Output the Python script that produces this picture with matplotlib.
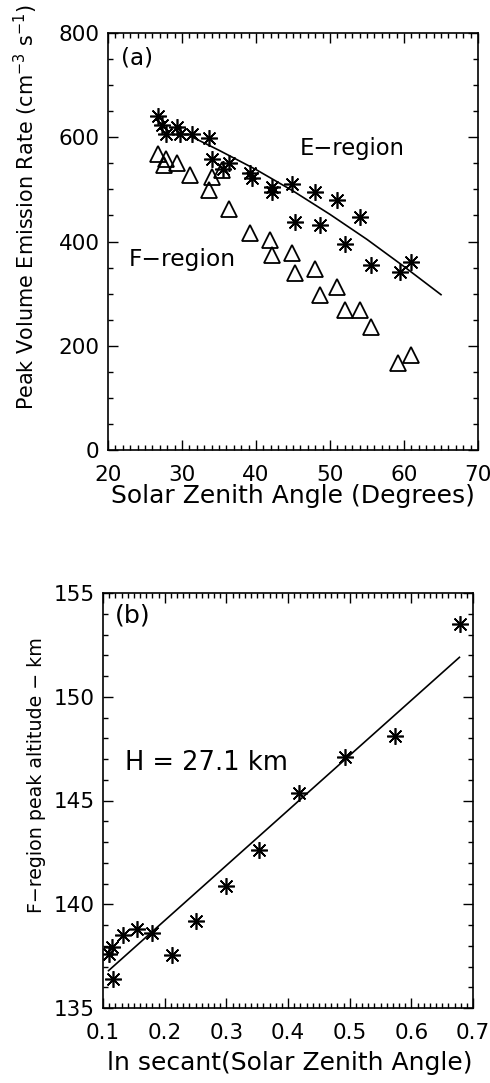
import matplotlib
matplotlib.use("Agg")
import matplotlib.pyplot as plt
from matplotlib.ticker import MultipleLocator

plt.rcParams['font.family'] = ['DejaVu Sans']
plt.rcParams['mathtext.fontset'] = 'dejavusans'

# Panel (a): peak volume emission rate vs solar zenith angle
sza_e = [26.8, 27.3, 27.9, 29.3, 29.7, 31.3, 33.6, 34.0, 35.6, 36.3, 39.2, 39.4,
         42.1, 42.1, 44.8, 45.3, 48.0, 48.6, 50.9, 52.0, 54.1, 55.6, 59.5, 61.0]
ver_e = [640, 623, 607, 620, 607, 607, 598, 559, 540, 550, 531, 521,
         505, 495, 511, 438, 495, 431, 479, 396, 447, 355, 342, 361]

sza_f = [26.8, 27.5, 27.9, 29.3, 31.1, 33.6, 34.0, 35.4, 36.3, 39.2, 41.9,
         42.1, 44.8, 45.3, 48.0, 48.6, 50.9, 52.0, 54.1, 55.6, 59.2, 61.0]
ver_f = [567, 546, 559, 550, 527, 499, 524, 537, 463, 417, 402,
         374, 377, 339, 348, 297, 313, 268, 268, 236, 166, 182]

fit_sza = [31.3, 35, 40, 45, 50, 55, 60, 65]
fit_ver = [601, 575, 538, 497, 452, 404, 352, 298]

# Panel (b): F-region peak altitude vs ln sec(SZA)
lnsec = [0.117, 0.109, 0.114, 0.133, 0.155, 0.179, 0.212, 0.250, 0.299,
         0.353, 0.418, 0.492, 0.573, 0.679]
hmf = [136.4, 137.6, 137.95, 138.5, 138.8, 138.6, 137.55, 139.2, 140.9,
       142.6, 145.35, 147.1, 148.1, 153.5]

line_x = [0.109, 0.678]
line_y = [136.8, 151.9]

W, H = 490, 1083
fig = plt.figure(figsize=(W / 100, H / 100), dpi=100)
fig.patch.set_facecolor('white')

ax1 = fig.add_axes([108 / W, 1 - 450 / H, 370 / W, 417 / H])
ax2 = fig.add_axes([103 / W, 1 - 1008 / H, 370 / W, 415 / H])

asterisk = (8, 2, 0)
FS = 15.5
renderer = fig.canvas.get_renderer()


def fit_length(t, target_px, vertical=False):
    """Scale a text's font size so its drawn length equals target_px."""
    bb = t.get_window_extent(renderer)
    cur = bb.height if vertical else bb.width
    t.set_fontsize(t.get_fontsize() * target_px / cur)


def style(ax, xmaj, xmin, ymaj, ymin, ypad):
    ax.xaxis.set_major_locator(MultipleLocator(xmaj))
    ax.xaxis.set_minor_locator(MultipleLocator(xmin))
    ax.yaxis.set_major_locator(MultipleLocator(ymaj))
    ax.yaxis.set_minor_locator(MultipleLocator(ymin))
    ax.tick_params(which='both', direction='in', top=True, right=True,
                   width=1.0, color='black')
    ax.tick_params(which='major', length=7)
    ax.tick_params(which='minor', length=3.5)
    ax.tick_params(axis='x', which='major', pad=11, labelsize=FS)
    ax.tick_params(axis='y', which='major', pad=ypad, labelsize=FS)
    for s in ax.spines.values():
        s.set_linewidth(1.2)


ax1.plot(sza_e, ver_e, linestyle='none', marker=asterisk, markersize=12,
         markeredgewidth=1.2, color='black')
ax1.plot(sza_f, ver_f, linestyle='none', marker='^', markersize=11,
         markerfacecolor='none', markeredgecolor='black', markeredgewidth=1.3)
ax1.plot(fit_sza, fit_ver, color='black', linewidth=1.2)
ax1.set_xlim(20, 70)
ax1.set_ylim(0, 800)
style(ax1, 10, 1, 200, 50, 6)
ta = ax1.text(23.9, 752, '(a)', fontsize=FS, ha='center', va='center')
te = ax1.text(53.0, 579, 'E\u2212region', fontsize=FS, ha='center', va='center')
tf = ax1.text(30.1, 366, 'F\u2212region', fontsize=FS, ha='center', va='center')

ax2.plot(lnsec, hmf, linestyle='none', marker=asterisk, markersize=12,
         markeredgewidth=1.2, color='black')
ax2.plot(line_x, line_y, color='black', linewidth=1.2)
ax2.set_xlim(0.1, 0.7)
ax2.set_ylim(135, 155)
style(ax2, 0.1, 0.01, 5, 1, 6)
ax2.xaxis.set_major_formatter(plt.FuncFormatter(lambda v, p: f'{v:.1f}'))
tb = ax2.text(0.149, 153.9, '(b)', fontsize=FS, ha='center', va='center')
th = ax2.text(0.136, 146.8, 'H = 27.1 km', fontsize=FS, ha='left', va='center')

yl1 = fig.text(26 / W, 1 - 207 / H,
               'Peak Volume Emission Rate (cm$^{-3}$ s$^{-1}$)',
               rotation=90, ha='center', va='center', fontsize=FS)
xl1 = fig.text(293 / W, 1 - 496 / H, 'Solar Zenith Angle (Degrees)',
               ha='center', va='center', fontsize=FS)
yl2 = fig.text(37 / W, 1 - 775 / H, 'F\u2212region peak altitude \u2212 km',
               rotation=90, ha='center', va='center', fontsize=FS)
xl2 = fig.text(290 / W, 1 - 1063 / H, 'ln secant(Solar Zenith Angle)',
               ha='center', va='center', fontsize=FS)

fit_length(ta, 32)
fit_length(tb, 36)
fit_length(te, 105)
fit_length(tf, 107)
fit_length(th, 163)
fit_length(yl1, 405, vertical=True)
fit_length(xl1, 362)
fit_length(yl2, 276, vertical=True)
fit_length(xl2, 365)

fig.savefig('out.png', dpi=100, facecolor='white')
